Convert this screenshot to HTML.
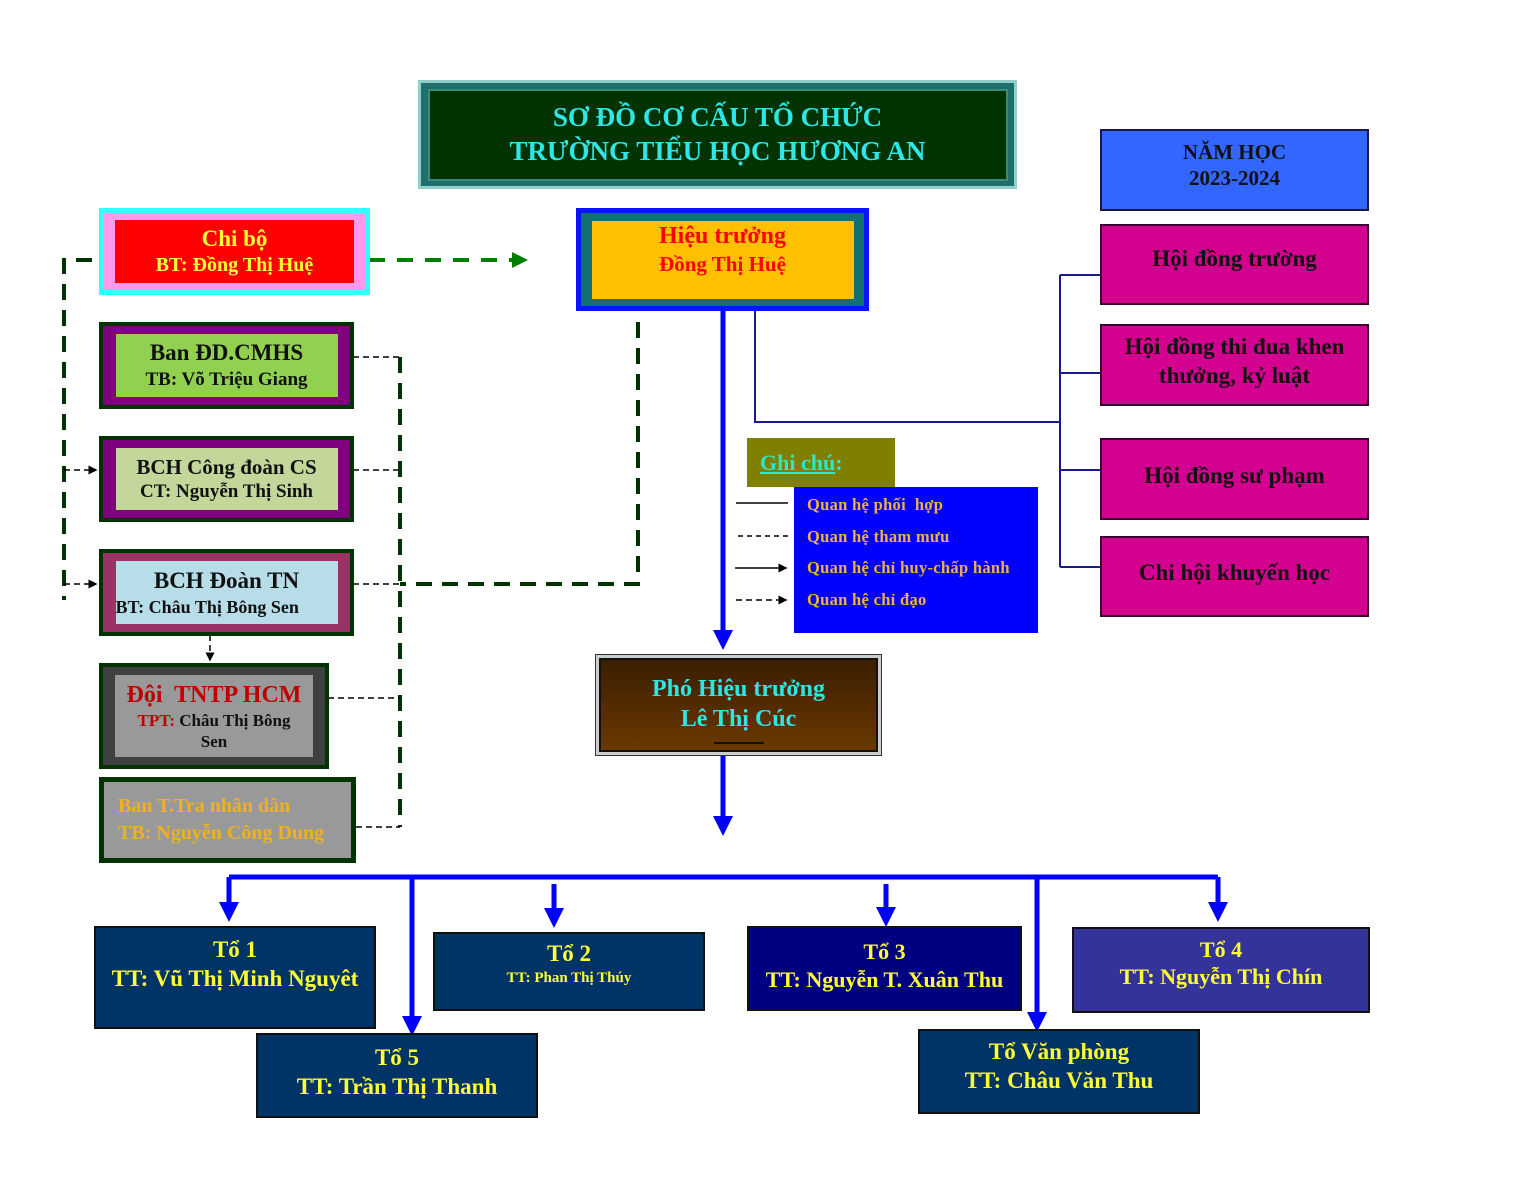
<!DOCTYPE html>
<html><head><meta charset="utf-8"><style>
body{margin:0;width:1520px;height:1200px;background:#fff;position:relative;overflow:hidden;font-family:"Liberation Serif","Noto Serif CJK SC",serif;font-weight:bold}
.b{position:absolute;box-sizing:border-box;display:flex;flex-direction:column;align-items:center;justify-content:center;text-align:center;line-height:1.25}
svg{position:absolute;left:0;top:0}
</style></head><body>
<svg width="1520" height="1200">
<defs>
<marker id="ab" markerWidth="4" markerHeight="4" refX="2" refY="2" orient="auto"><path d="M0,0 L4,2 L0,4z" fill="#0000ff"/></marker>
<marker id="ag" markerWidth="4" markerHeight="4" refX="2" refY="2" orient="auto"><path d="M0,0 L4,2 L0,4z" fill="#008000"/></marker>
<marker id="ak" markerWidth="6" markerHeight="6" refX="5" refY="3" orient="auto"><path d="M0,0 L6,3 L0,6z" fill="#000"/></marker>
</defs>
<g stroke="#1a1a8c" stroke-width="2" fill="none">
<path d="M755 310 V422 H1060"/><path d="M1060 275 V567"/>
<path d="M1060 275 H1100 M1060 373 H1100 M1060 470 H1100 M1060 567 H1100"/>
</g>
<g stroke="#003300" stroke-width="4" fill="none" stroke-dasharray="16,10">
<path d="M92 260 H64 V600"/>
<path d="M638 322 V584 H400"/>
<path d="M400 357 V827"/>
</g>
<path d="M369 260 H520" stroke="#008000" stroke-width="4" stroke-dasharray="16,12" marker-end="url(#ag)"/>
<g stroke="#000" stroke-width="1.5" fill="none" stroke-dasharray="6,4">
<path d="M353 357 H400 M353 470 H400 M353 584 H400 M328 698 H400 M326 827 H400"/>
<path d="M64 470 H96" marker-end="url(#ak)"/><path d="M64 584 H96" marker-end="url(#ak)"/>
<path d="M210 635 V660" marker-end="url(#ak)"/>
</g>
<g stroke="#0000ff" stroke-width="5" fill="none">
<path d="M723 310 V640" marker-end="url(#ab)"/>
<path d="M723 755 V826" marker-end="url(#ab)"/>
<path d="M229 877 H1218"/>
<path d="M229 877 V912" marker-end="url(#ab)"/>
<path d="M412 877 V1026" marker-end="url(#ab)"/>
<path d="M554 884 V918" marker-end="url(#ab)"/>
<path d="M886 884 V917" marker-end="url(#ab)"/>
<path d="M1037 877 V1022" marker-end="url(#ab)"/>
<path d="M1218 877 V912" marker-end="url(#ab)"/>
</g>
<g stroke="#000" stroke-width="1.5" fill="none">
<path d="M736 503 H788"/><path d="M738 536 H790" stroke-dasharray="5,4"/>
<path d="M735 568 H786" marker-end="url(#ak)"/><path d="M736 600 H786" stroke-dasharray="6,4" marker-end="url(#ak)"/>
</g>
</svg>

<div class="b" style="left:418px;top:80px;width:599px;height:109px;background:#1f6f6f;border:3px solid #8fd0c8;padding:0">
 <div class="b" style="position:static;width:580px;height:92px;background:#003300;border:2px solid #3c8a7a;color:#2ee6e6;font-size:27px">SƠ ĐỒ CƠ CẤU TỔ CHỨC<br>TRƯỜNG TIỂU HỌC HƯƠNG AN</div>
</div>
<div class="b" style="left:1100px;top:129px;width:269px;height:82px;background:#3366ff;border:2px solid #1a1a40;color:#111;font-size:21px;padding-bottom:10px">NĂM HỌC<br>2023-2024</div>
<div class="b" style="left:1100px;top:224px;width:269px;height:81px;background:#d4008f;border:2px solid #3a0030;color:#111;font-size:23px;padding-bottom:10px">Hội đồng trường</div>
<div class="b" style="left:1100px;top:324px;width:269px;height:82px;background:#d4008f;border:2px solid #3a0030;color:#111;font-size:23px;padding-bottom:6px">Hội đồng thi đua khen<br>thưởng, kỷ luật</div>
<div class="b" style="left:1100px;top:438px;width:269px;height:82px;background:#d4008f;border:2px solid #3a0030;color:#111;font-size:23px;padding-bottom:6px">Hội đồng sư phạm</div>
<div class="b" style="left:1100px;top:536px;width:269px;height:81px;background:#d4008f;border:2px solid #3a0030;color:#111;font-size:23px;padding-bottom:6px">Chi hội khuyến học</div>

<div class="b" style="left:99px;top:208px;width:271px;height:87px;background:#ff99ee;border:5px solid #33ffff">
 <div class="b" style="position:static;width:239px;height:63px;background:#ff0000;color:#ffff33;font-size:23px">Chi bộ<br><span style="font-size:20px">BT: Đồng Thị Huệ</span></div>
</div>
<div class="b" style="left:576px;top:208px;width:293px;height:103px;background:#137070;border:5px solid #0a14ff">
 <div class="b" style="position:static;width:262px;height:78px;background:#ffc000;color:#ff0000;font-size:24px;justify-content:flex-start;padding-top:0">Hiệu trưởng<br><span style="font-size:21px">Đồng Thị Huệ</span></div>
</div>
<div class="b" style="left:99px;top:322px;width:255px;height:87px;background:#800080;border:4px solid #003300">
 <div class="b" style="position:static;width:222px;height:63px;background:#92d050;color:#111;font-size:23px">Ban ĐD.CMHS<br><span style="font-size:19px">TB: Võ Triệu Giang</span></div>
</div>
<div class="b" style="left:99px;top:436px;width:255px;height:86px;background:#800080;border:4px solid #003300">
 <div class="b" style="position:static;width:222px;height:62px;background:#c4d79b;color:#111;font-size:21px">BCH Công đoàn CS<br><span style="font-size:19px">CT: Nguyễn Thị Sinh</span></div>
</div>
<div class="b" style="left:99px;top:549px;width:255px;height:87px;background:#993366;border:4px solid #003300">
 <div class="b" style="position:static;width:222px;height:63px;background:#b7dde8;color:#111;font-size:23px">BCH Đoàn TN<br><span style="font-size:18px;align-self:flex-start">BT: Châu Thị Bông Sen</span></div>
</div>
<div class="b" style="left:99px;top:663px;width:230px;height:106px;background:#404040;border:4px solid #003300">
 <div class="b" style="position:static;width:198px;height:82px;background:#999;color:#111;font-size:17px;line-height:1.25"><span style="color:#c00000;font-size:24px">Đội&nbsp; TNTP HCM</span><span><span style="color:#c00000">TPT:</span> Châu Thị Bông<br>Sen</span></div>
</div>
<div class="b" style="left:99px;top:777px;width:257px;height:86px;background:#999;border:5px solid #003300;color:#f0b020;font-size:20px;align-items:flex-start;text-align:left;padding-left:14px;line-height:1.35">Ban T.Tra nhân dân<br>TB: Nguyễn Công Dung</div>

<div class="b" style="left:747px;top:438px;width:148px;height:49px;background:#808000;color:#2ee6c8;font-size:22px;align-items:flex-start;text-align:left;padding-left:13px"><span><u>Ghi chú</u>:</span></div>
<div class="b" style="left:794px;top:487px;width:244px;height:146px;background:#0000ff;color:#f0b040;font-size:16.5px;align-items:flex-start;text-align:left;justify-content:flex-start;padding:2px 0 0 13px;line-height:31.5px;letter-spacing:0.3px">Quan hệ phối&nbsp; hợp<br>Quan hệ tham mưu<br>Quan hệ chỉ huy-chấp hành<br>Quan hệ chỉ đạo</div>

<div class="b" style="left:595px;top:654px;width:287px;height:102px;background:#ccc;border:1px solid #333;padding:0">
 <div class="b" style="position:static;width:279px;height:94px;background:linear-gradient(#3a1e00,#6b3800);border:2px solid #111;color:#2ee6e6;font-size:24px;padding-top:8px">Phó Hiệu trưởng<br>Lê Thị Cúc<div style="width:50px;border-top:2px solid #111;margin-top:8px"></div></div>
</div>

<div class="b" style="left:94px;top:926px;width:282px;height:103px;background:#003366;border:2px solid #111;color:#ffff33;font-size:23px;justify-content:flex-start;padding-top:8px">Tổ 1<br>TT: Vũ Thị Minh Nguyêt</div>
<div class="b" style="left:433px;top:932px;width:272px;height:79px;background:#003366;border:2px solid #111;color:#ffff33;font-size:23px;justify-content:flex-start;padding-top:6px">Tổ 2<span style="font-size:15px">TT: Phan Thị Thúy</span></div>
<div class="b" style="left:747px;top:926px;width:275px;height:85px;background:#000080;border:2px solid #111;color:#ffff33;font-size:22px;padding-bottom:6px">Tổ 3<br>TT: Nguyễn T. Xuân Thu</div>
<div class="b" style="left:1072px;top:927px;width:298px;height:86px;background:#333399;border:2px solid #111;color:#ffff33;font-size:22px;padding-bottom:14px">Tổ 4<br>TT: Nguyễn Thị Chín</div>
<div class="b" style="left:256px;top:1033px;width:282px;height:85px;background:#003366;border:2px solid #111;color:#ffff33;font-size:23px;padding-bottom:6px">Tổ 5<br>TT: Trần Thị Thanh</div>
<div class="b" style="left:918px;top:1029px;width:282px;height:85px;background:#003366;border:2px solid #111;color:#ffff33;font-size:23px;padding-bottom:10px">Tổ Văn phòng<br>TT: Châu Văn Thu</div>
</body></html>
